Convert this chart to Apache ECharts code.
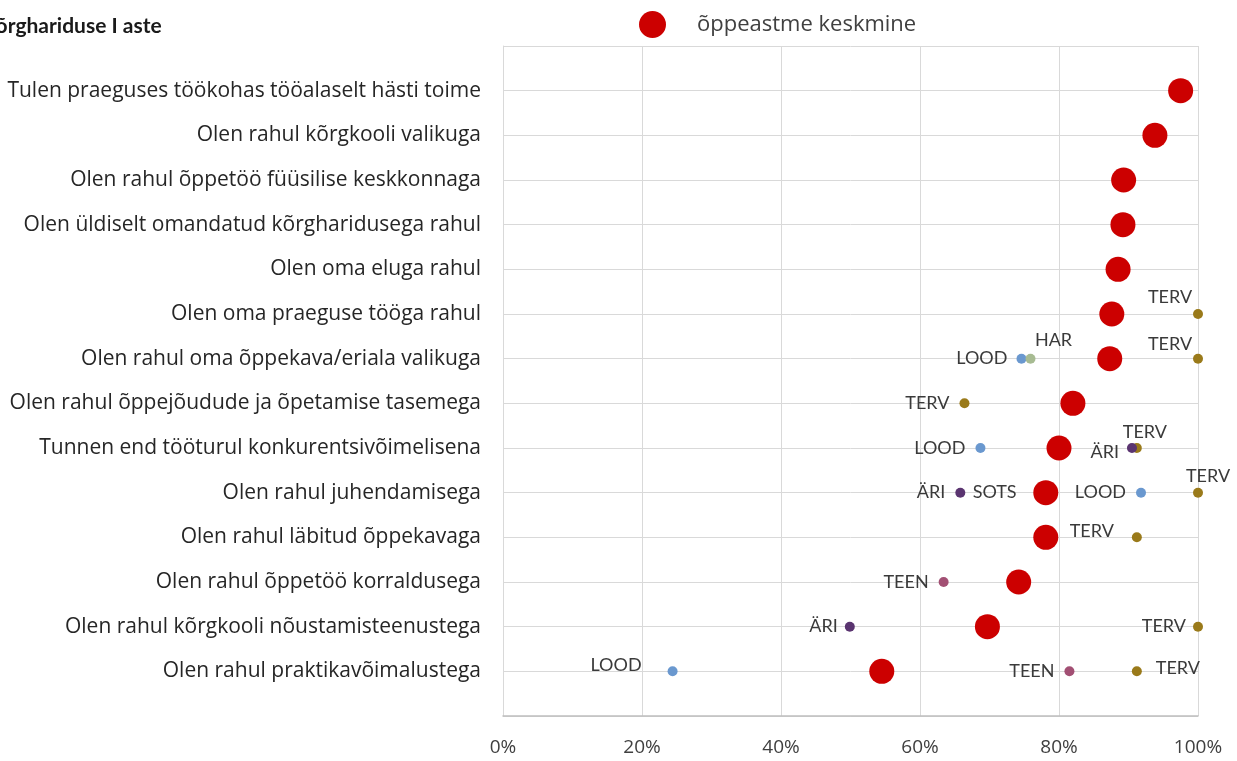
<!DOCTYPE html>
<html><head><meta charset="utf-8">
<script src="https://cdn.jsdelivr.net/npm/echarts@6/dist/echarts.min.js"></script>
<style>html,body{margin:0;padding:0;background:#fff}#c{width:1237px;height:761px}</style>
</head><body><div id="c"></div>
<script>
// categories top to bottom
const categories = [
  "Tulen praeguses töökohas tööalaselt hästi toime",
  "Olen rahul kõrgkooli valikuga",
  "Olen rahul õppetöö füüsilise keskkonnaga",
  "Olen üldiselt omandatud kõrgharidusega rahul",
  "Olen oma eluga rahul",
  "Olen oma praeguse tööga rahul",
  "Olen rahul oma õppekava/eriala valikuga",
  "Olen rahul õppejõudude ja õpetamise tasemega",
  "Tunnen end tööturul konkurentsivõimelisena",
  "Olen rahul juhendamisega",
  "Olen rahul läbitud õppekavaga",
  "Olen rahul õppetöö korraldusega",
  "Olen rahul kõrgkooli nõustamisteenustega",
  "Olen rahul praktikavõimalustega"
];
const xTicks = [0, 0.2, 0.4, 0.6, 0.8, 1.0];
const meanName = "õppeastme keskmine";
const meanValues = [0.975, 0.938, 0.893, 0.892, 0.885, 0.876, 0.873, 0.820, 0.800, 0.781, 0.781, 0.742, 0.697, 0.545];
const LOODvals = [null, null, null, null, null, null, 0.746, null, 0.687, 0.918, null, null, null, 0.244];
const HARvals  = [null, null, null, null, null, null, 0.759, null, null, null, null, null, null, null];
const TERVvals = [null, null, null, null, null, 1.0, 1.0, 0.664, 0.912, 1.0, 0.912, null, 1.0, 0.912];
const ARIvals  = [null, null, null, null, null, null, null, null, 0.905, 0.658, null, null, 0.499, null];
const TEENvals = [null, null, null, null, null, null, null, null, null, null, null, 0.634, null, 0.815];
const SOTSvals = [null, null, null, null, null, null, null, null, null, 0.775, null, null, null, null];

// label placement (styling), keyed by row index
const defLabel = {position: 'left', distance: 10};
const labelPlace = {
  LOOD: {6: {position:'left', distance: 9}, 13: {position:'left', distance: 26, offset:[0,-6]}},
  HAR:  {6: {position:'top', distance: 4, offset:[23,0]}},
  TERV: {5: {position:'top', distance: 3, offset:[-28,0]}, 6: {position:'top', distance: 0, offset:[-28,0]},
         8: {position:'top', distance: 2, offset:[8,0]}, 9: {position:'top', distance: 2, offset:[10,0]},
         10: {position:'left', distance: 18, offset:[0,-6]}, 12: {position:'left', distance: 7},
         13: {position:'right', distance: 14, offset:[0,-3]}},
  "ÄRI": {8: {position:'left', distance: 8, offset:[0,4]}, 9: {position:'left', distance: 10}, 12: {position:'left', distance: 7}},
  TEEN: {},
  SOTS: {9: {position:'left', distance: 20}}
};
const groups = [
  {name: 'LOOD', vals: LOODvals, color: '#6a98cf'},
  {name: 'HAR',  vals: HARvals,  color: '#a7bb92'},
  {name: 'TERV', vals: TERVvals, color: '#9a7a1a'},
  {name: 'ÄRI',  vals: ARIvals,  color: '#5a3470'},
  {name: 'TEEN', vals: TEENvals, color: '#a24f73'},
  {name: 'SOTS', vals: SOTSvals, color: '#8a8a8a'}
];
const N = categories.length;
const yOf = i => N - i;

const series = groups.map(g => ({
  name: g.name,
  type: 'scatter',
  symbolSize: 10,
  itemStyle: {color: g.color, opacity: 1},
  label: {show: true, formatter: g.name, color: '#3a3a3a', fontSize: 18, fontFamily: 'Lato'},
  z: 2,
  data: g.vals.map((v, i) => v == null ? null : {
    value: [v, yOf(i)],
    label: Object.assign({}, defLabel, (labelPlace[g.name] || {})[i] || {})
  }).filter(d => d)
}));
series.push({
  name: meanName,
  type: 'scatter',
  symbolSize: 25,
  itemStyle: {color: '#cc0000', opacity: 1},
  z: 5,
  data: meanValues.map((v, i) => [v, yOf(i)])
});

const chart = echarts.init(document.getElementById('c'));
chart.setOption({
  animation: false,
  title: {text: 'Kõrghariduse I aste', left: -23, top: 11,
    textStyle: {fontFamily: 'Lato', fontWeight: 'bold', fontSize: 21, color: '#1a1a1a'}},
  legend: {data: [meanName], left: 634, top: 6, itemWidth: 27, itemHeight: 27, itemGap: 10,
    icon: 'circle', textStyle: {fontFamily: 'Open Sans', fontSize: 22, color: '#404040', padding: [0,0,0,26]}},
  grid: {left: 503, right: 39, top: 46, bottom: 45, containLabel: false},
  xAxis: {
    type: 'value', min: xTicks[0], max: xTicks[xTicks.length-1], interval: xTicks[1]-xTicks[0],
    axisLine: {show: true, lineStyle: {color: '#bfbfbf', width: 1.5}},
    axisTick: {show: false},
    splitLine: {show: true, lineStyle: {color: '#d9d9d9'}},
    axisLabel: {formatter: v => Math.round(v*100) + '%', margin: 22, fontFamily: 'Open Sans', fontSize: 19, color: '#404040'}
  },
  yAxis: {
    type: 'value', min: 0, max: N + 1, interval: 1,
    axisLine: {show: true, lineStyle: {color: '#d9d9d9'}},
    axisTick: {show: false},
    splitLine: {show: true, lineStyle: {color: '#d9d9d9'}},
    axisLabel: {margin: 22, fontFamily: 'Open Sans', fontSize: 21, color: '#262626',
      formatter: v => (v >= 1 && v <= N) ? categories[N - v] : ''}
  },
  series: series
});
</script></body></html>
